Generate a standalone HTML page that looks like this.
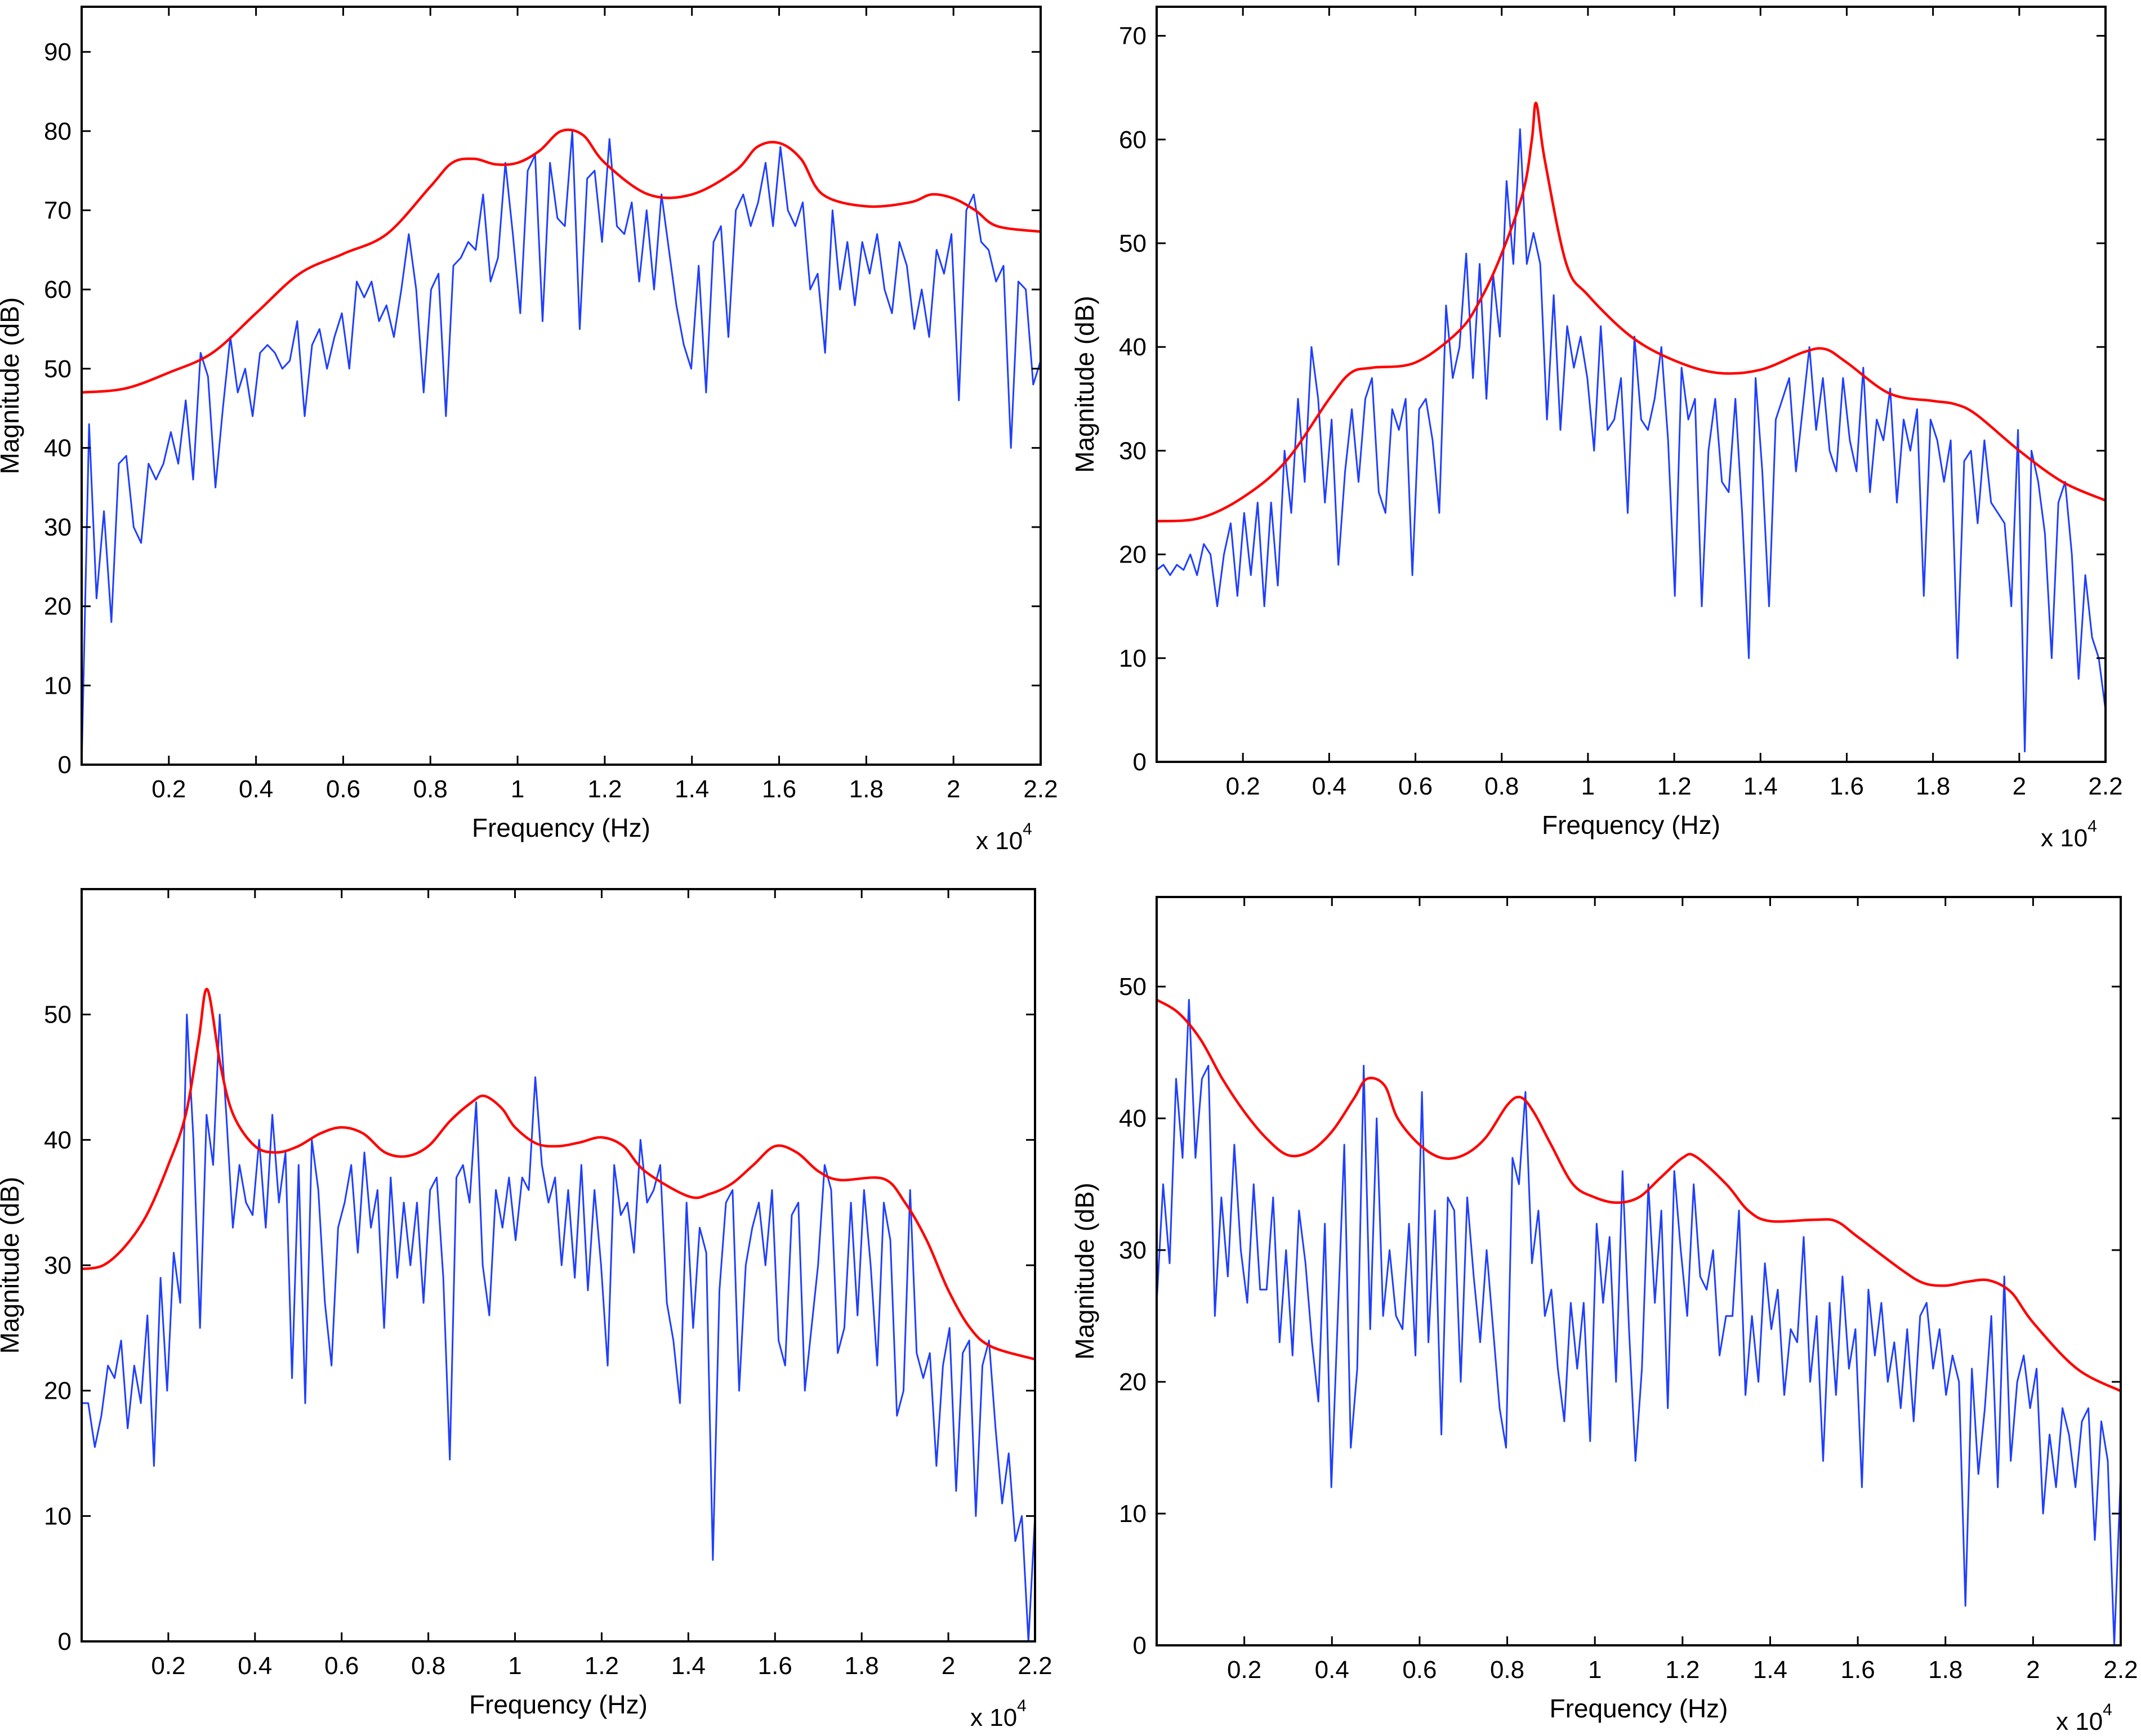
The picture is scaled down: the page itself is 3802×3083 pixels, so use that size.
<!DOCTYPE html>
<html><head><meta charset="utf-8"><style>
html,body{margin:0;padding:0;background:#fff;}
svg{display:block;font-family:"Liberation Sans",Arial,sans-serif;}
</style></head><body>
<svg id="fig" width="3802" height="3083" viewBox="0 0 3802 3083" xmlns="http://www.w3.org/2000/svg"></svg>
<script>
// ---- data (x in units of 1e4 Hz) ----
const tlBlue=[0,43,21,32,18,38,39,30,28,38,36,38,42,38,46,36,52,49,35,45,54,47,50,44,52,53,52,50,51,56,44,53,55,50,54,57,50,61,59,61,56,58,54,60,67,60,47,60,62,44,63,64,66,65,72,61,64,76,67,57,75,77,56,76,69,68,80,55,74,75,66,79,68,67,71,61,70,60,72,65,58,53,50,63,47,66,68,54,70,72,68,71,76,68,78,70,68,71,60,62,52,70,60,66,58,66,62,67,60,57,66,63,55,60,54,65,62,67,46,70,72,66,65,61,63,40,61,60,48,51];
const tlRedX=[0,0.1,0.2,0.3,0.4,0.5,0.6,0.7,0.8,0.85,0.9,0.95,1.0,1.05,1.1,1.15,1.2,1.3,1.4,1.5,1.55,1.6,1.65,1.7,1.8,1.9,1.95,2.0,2.05,2.1,2.2];
const tlRedY=[47,47.5,49.5,52,57,62,64.5,67,73,76,76.5,75.8,76,77.5,80,79.5,76,72,72,75,78,78.5,76.5,72,70.5,71,72,71.5,70,68,67.3];
const trBlue=[18.5,19,18,19,18.5,20,18,21,20,15,20,23,16,24,18,25,15,25,17,30,24,35,27,40,35,25,33,19,28,34,27,35,37,26,24,34,32,35,18,34,35,31,24,44,37,40,49,37,48,35,47,41,56,48,61,48,51,48,33,45,32,42,38,41,37,30,42,32,33,37,24,41,33,32,35,40,31,16,38,33,35,15,30,35,27,26,35,24,10,37,28,15,33,35,37,28,34,40,32,37,30,28,37,31,28,38,26,33,31,36,25,33,30,34,16,33,31,27,31,10,29,30,23,31,25,24,23,15,32,1,30,27,22,10,25,27,20,8,18,12,10,5];
const trRedX=[0,0.1,0.2,0.3,0.4,0.45,0.5,0.6,0.7,0.75,0.8,0.85,0.87,0.88,0.9,0.95,1.0,1.1,1.2,1.3,1.4,1.5,1.55,1.6,1.7,1.8,1.85,1.9,2.0,2.1,2.2];
const trRedY=[23.2,23.5,25.5,29,35,37.5,38,38.5,41.5,44.5,49,55,60,63.5,58,48,45,41,38.7,37.5,37.8,39.5,39.8,38.5,35.5,34.8,34.5,33.5,30,27,25.2];
const blBlue=[19,19,15.5,18,22,21,24,17,22,19,26,14,29,20,31,27,50,40,25,42,38,50,42,33,38,35,34,40,33,42,35,39,21,38,19,40,36,27,22,33,35,38,31,39,33,36,25,37,29,35,30,35,27,36,37,29,14.5,37,38,35,43,30,26,36,33,37,32,37,36,45,38,35,37,30,36,29,38,28,36,30,22,38,34,35,31,40,35,36,38,27,24,19,35,25,33,31,6.5,28,35,36,20,30,33,35,30,36,24,22,34,35,20,25,30,38,36,23,25,35,26,36,30,22,35,32,18,20,36,23,21,23,14,22,25,12,23,24,10,22,24,17,11,15,8,10,0,10];
const blRedX=[0,0.05,0.1,0.15,0.2,0.24,0.27,0.29,0.32,0.35,0.4,0.45,0.5,0.55,0.6,0.65,0.7,0.75,0.8,0.85,0.9,0.93,0.97,1.0,1.05,1.1,1.15,1.2,1.25,1.3,1.4,1.45,1.5,1.55,1.6,1.65,1.7,1.75,1.85,1.9,1.95,2.0,2.05,2.1,2.2];
const blRedY=[29.7,30,31.5,34,38,42,48,52,46,42,39.5,39,39.5,40.5,41,40.5,39,38.7,39.5,41.5,43,43.5,42.5,41,39.7,39.5,39.8,40.2,39.5,37.5,35.5,35.7,36.5,38,39.5,39,37.5,36.8,36.9,35,32,28,25,23.5,22.5];
const brBlue=[26,35,29,43,37,49,37,43,44,25,34,28,38,30,26,35,27,27,34,23,30,22,33,29,23,18.5,32,12,25,38,15,21,44,24,40,25,30,25,24,32,22,42,23,33,16,34,33,20,34,28,23,30,24,18,15,37,35,42,29,33,25,27,21,17,26,21,26,15.5,32,26,31,20,36,24,14,21,35,26,33,18,36,30,25,35,28,27,30,22,25,25,33,19,25,20,29,24,27,19,24,23,31,20,25,14,26,19,28,21,24,12,27,22,26,20,23,18,24,17,25,26,21,24,19,22,20,3,21,13,18,25,12,28,14,20,22,18,21,10,16,12,18,16,12,17,18,8,17,14,0,13];
const brRedX=[0,0.05,0.1,0.15,0.2,0.25,0.3,0.35,0.4,0.45,0.48,0.52,0.55,0.6,0.65,0.7,0.75,0.8,0.83,0.86,0.9,0.95,1.0,1.05,1.1,1.15,1.2,1.23,1.3,1.35,1.4,1.5,1.55,1.6,1.7,1.75,1.8,1.85,1.9,1.95,2.0,2.1,2.2];
const brRedY=[49,48,46,43,40.5,38.5,37.2,37.5,39,41.5,43,42.5,40,38,37,37.2,38.5,41,41.6,40.5,38,35,34,33.6,34,35.5,37,37.1,35,33,32.2,32.3,32.2,31,28.5,27.5,27.3,27.6,27.7,26.8,24.5,21,19.3];
const xTicks=[0.2,0.4,0.6,0.8,1,1.2,1.4,1.6,1.8,2,2.2];
const xTickLabels=["0.2","0.4","0.6","0.8","1","1.2","1.4","1.6","1.8","2","2.2"];

const NS="http://www.w3.org/2000/svg";
const svg=document.getElementById('fig');
function mk(tag,attrs,parent){const e=document.createElementNS(NS,tag);for(const k in attrs)e.setAttribute(k,attrs[k]);(parent||svg).appendChild(e);return e;}
function smooth(pts){
 let d='M'+pts[0][0].toFixed(1)+','+pts[0][1].toFixed(1);
 for(let i=0;i<pts.length-1;i++){
  const p0=pts[Math.max(0,i-1)],p1=pts[i],p2=pts[i+1],p3=pts[Math.min(pts.length-1,i+2)];
  const c1x=p1[0]+(p2[0]-p0[0])/6,c1y=p1[1]+(p2[1]-p0[1])/6;
  const c2x=p2[0]-(p3[0]-p1[0])/6,c2y=p2[1]-(p3[1]-p1[1])/6;
  d+='C'+c1x.toFixed(1)+','+c1y.toFixed(1)+' '+c2x.toFixed(1)+','+c2y.toFixed(1)+' '+p2[0].toFixed(1)+','+p2[1].toFixed(1);
 }
 return d;
}

const panels=[
 {id:'top-left',L:145,R:1848,T:12,B:1358,ymax:95.7,yt:[0,10,20,30,40,50,60,70,80,90],blue:tlBlue,rx:tlRedX,ry:tlRedY},
 {id:'top-right',L:2054,R:3739,T:12,B:1353,ymax:72.8,yt:[0,10,20,30,40,50,60,70],blue:trBlue,rx:trRedX,ry:trRedY},
 {id:'bottom-left',L:145,R:1838,T:1579,B:2915,ymax:60,yt:[0,10,20,30,40,50],blue:blBlue,rx:blRedX,ry:blRedY},
 {id:'bottom-right',L:2054,R:3766,T:1593,B:2922,ymax:56.8,yt:[0,10,20,30,40,50],blue:brBlue,rx:brRedX,ry:brRedY}
];
panels.forEach(p=>{
 const g=mk('g',{});
 
 
 const xs=v=>p.L+(p.R-p.L)*v/2.2;
 const ys=v=>p.B-(p.B-p.T)*v/p.ymax;
 const clip=mk('clipPath',{id:'c-'+p.id},g);
 mk('rect',{x:p.L,y:p.T,width:p.R-p.L,height:p.B-p.T},clip);
 const n=p.blue.length;
 const bd=p.blue.map((v,i)=>(i?'L':'M')+xs(i*2.2/(n-1)).toFixed(1)+','+ys(v).toFixed(1)).join('');
 const bl=mk('path',{d:bd,fill:'none',stroke:'#1f3fff','stroke-width':3,'stroke-linejoin':'round','clip-path':'url(#c-'+p.id+')'},g);
 
 
 const rd=smooth(p.rx.map((x,i)=>[xs(x),ys(p.ry[i])]));
 const rl=mk('path',{d:rd,fill:'none',stroke:'#ff0000','stroke-width':4.5,'stroke-linejoin':'round','clip-path':'url(#c-'+p.id+')'},g);
 
 
 const fr=mk('rect',{x:p.L,y:p.T,width:p.R-p.L,height:p.B-p.T,fill:'none',stroke:'#000','stroke-width':4},g);
 
 
 xTicks.forEach((t,i)=>{
  const x=xs(t);
  mk('line',{x1:x,x2:x,y1:p.B,y2:p.B-16,stroke:'#000','stroke-width':3},g);
  mk('line',{x1:x,x2:x,y1:p.T,y2:p.T+16,stroke:'#000','stroke-width':3},g);
  const tx=mk('text',{x:x,y:p.B+58,'font-size':44,'text-anchor':'middle'},g);
  tx.textContent=xTickLabels[i];
  
  
 });
 p.yt.forEach(t=>{
  const y=ys(t);
  mk('line',{x1:p.L,x2:p.L+16,y1:y,y2:y,stroke:'#000','stroke-width':3},g);
  mk('line',{x1:p.R,x2:p.R-16,y1:y,y2:y,stroke:'#000','stroke-width':3},g);
  const ty=mk('text',{x:p.L-18,y:y+15,'font-size':44,'text-anchor':'end'},g);
  ty.textContent=String(t);
  
  
 });
 const xl=mk('text',{x:(p.L+p.R)/2,y:p.B+128,'font-size':46,'text-anchor':'middle'},g);
 xl.textContent='Frequency (Hz)';
 
 
 const ex=mk('text',{x:p.R-115,y:p.B+150,'font-size':44},g);
 ex.textContent='x 10';
 
 
 const sp=mk('tspan',{dy:-26,'font-size':30},ex);sp.textContent='4';
 const cy=(p.T+p.B)/2;
 const yl=mk('text',{x:p.L-112,y:cy,'font-size':46,'text-anchor':'middle',transform:'rotate(-90 '+(p.L-112)+' '+cy+')'},g);
 yl.textContent='Magnitude (dB)';
 
 
});
</script>
</body></html>
